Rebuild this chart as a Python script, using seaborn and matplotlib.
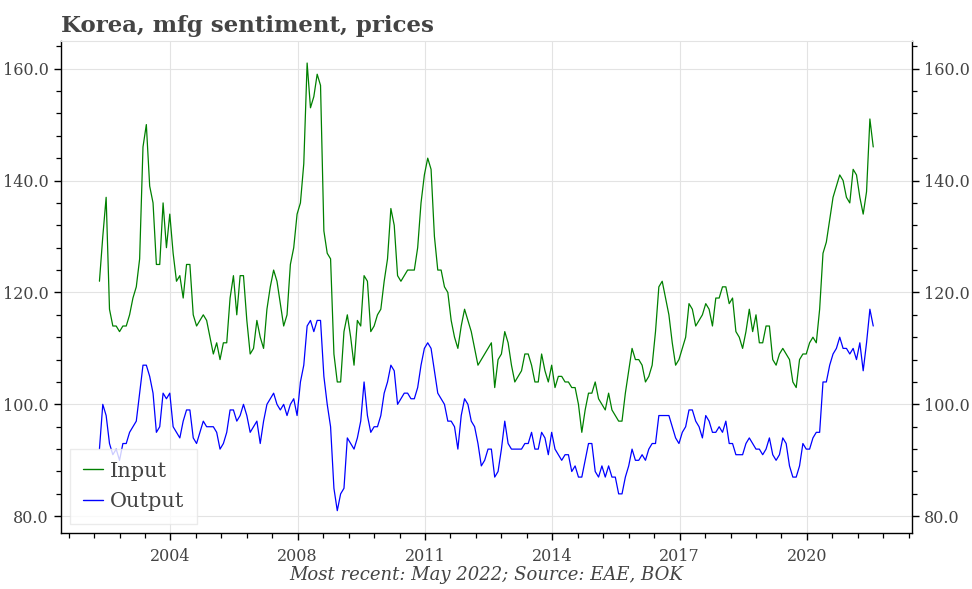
import matplotlib
matplotlib.use("Agg")
import matplotlib.pyplot as plt
from matplotlib.ticker import AutoMinorLocator, FixedLocator, FormatStrFormatter
import numpy as np
import pandas as pd
import seaborn as sns

# ---- data (monthly) ----
input_prices = [
    122, 130, 137, 117, 114, 114, 113, 114, 114, 116, 119, 121, 126, 146, 150, 139, 136, 125, 125, 136,
    128, 134, 127, 122, 123, 119, 125, 125, 116, 114, 115, 116, 115, 112, 109, 111, 108, 111, 111, 119,
    123, 116, 123, 123, 115, 109, 110, 115, 112, 110, 117, 121, 124, 122, 118, 114, 116, 125, 128, 134,
    136, 143, 161, 153, 155, 159, 157, 131, 127, 126, 109, 104, 104, 113, 116, 112, 107, 115, 114, 123,
    122, 113, 114, 116, 117, 122, 126, 135, 132, 123, 122, 123, 124, 124, 124, 128, 136, 141, 144, 142,
    130, 124, 124, 121, 120, 115, 112, 110, 114, 117, 115, 113, 110, 107, 108, 109, 110, 111, 103, 108,
    109, 113, 111, 107, 104, 105, 106, 109, 109, 107, 104, 104, 109, 106, 104, 107, 103, 105, 105, 104,
    104, 103, 103, 100, 95, 99, 102, 102, 104, 101, 100, 99, 102, 99, 98, 97, 97, 102, 106, 110,
    108, 108, 107, 104, 105, 107, 113, 121, 122, 119, 116, 111, 107, 108, 110, 112, 118, 117, 114, 115,
    116, 118, 117, 114, 119, 119, 121, 121, 118, 119, 113, 112, 110, 113, 117, 113, 116, 111, 111, 114,
    114, 108, 107, 109, 110, 109, 108, 104, 103, 108, 109, 109, 111, 112, 111, 117, 127, 129, 133, 137,
    139, 141, 140, 137, 136, 142, 141, 137, 134, 138, 151, 146,
]
output_prices = [
    92, 100, 98, 93, 91, 92, 90, 93, 93, 95, 96, 97, 102, 107, 107, 105, 102, 95, 96, 102,
    101, 102, 96, 95, 94, 97, 99, 99, 94, 93, 95, 97, 96, 96, 96, 95, 92, 93, 95, 99,
    99, 97, 98, 100, 98, 95, 96, 97, 93, 97, 100, 101, 102, 100, 99, 100, 98, 100, 101, 98,
    104, 107, 114, 115, 113, 115, 115, 105, 100, 96, 85, 81, 84, 85, 94, 93, 92, 94, 97, 104,
    98, 95, 96, 96, 98, 102, 104, 107, 106, 100, 101, 102, 102, 101, 101, 103, 107, 110, 111, 110,
    106, 102, 101, 100, 97, 97, 96, 92, 98, 101, 100, 97, 96, 93, 89, 90, 92, 92, 87, 88,
    92, 97, 93, 92, 92, 92, 92, 93, 93, 95, 92, 92, 95, 94, 91, 95, 92, 91, 90, 91,
    91, 88, 89, 87, 87, 90, 93, 93, 88, 87, 89, 87, 89, 87, 87, 84, 84, 87, 89, 92,
    90, 90, 91, 90, 92, 93, 93, 98, 98, 98, 98, 96, 94, 93, 95, 96, 99, 99, 97, 96,
    94, 98, 97, 95, 95, 96, 95, 97, 93, 93, 91, 91, 91, 93, 94, 93, 92, 92, 91, 92,
    94, 91, 90, 91, 94, 93, 89, 87, 87, 89, 93, 92, 92, 94, 95, 95, 104, 104, 107, 109,
    110, 112, 110, 110, 109, 110, 108, 111, 106, 111, 117, 114,
]
series_names = ["Input", "Output"]
series_colors = ["green", "blue"]
x_tick_positions = [21.2, 59.2, 97.2, 135.2, 173.2, 211.2]
x_tick_labels = ["2004", "2008", "2011", "2014", "2017", "2020"]
y_ticks = [80, 100, 120, 140, 160]
title_text = "Korea, mfg sentiment, prices"
caption_text = "Most recent: May 2022; Source: EAE, BOK"

# ---- build long table ----
n = len(input_prices)
df = pd.DataFrame({
    "t": list(range(n)) * 2,
    "value": input_prices + output_prices,
    "series": [series_names[0]] * n + [series_names[1]] * len(output_prices),
})

sns.set_theme(style="ticks")
plt.rcParams["font.family"] = ["DejaVu Serif"]
text_color = "#444444"
plt.rcParams["text.color"] = text_color
plt.rcParams["axes.labelcolor"] = text_color
plt.rcParams["xtick.color"] = "black"
plt.rcParams["ytick.color"] = "black"
plt.rcParams["xtick.labelcolor"] = text_color
plt.rcParams["ytick.labelcolor"] = text_color

fig = plt.figure(figsize=(9.72, 5.89), dpi=100)
ax = fig.add_axes([0.0625, 0.095, 0.8757, 0.836])

sns.lineplot(data=df, x="t", y="value", hue="series",
             palette=dict(zip(series_names, series_colors)),
             linewidth=0.9, ax=ax)

ax.margins(x=0.05, y=0.05)
ax.set_xlabel("")
ax.set_ylabel("")

ax.xaxis.set_major_locator(FixedLocator(x_tick_positions))
ax.set_xticklabels(x_tick_labels)
ax.xaxis.set_minor_locator(AutoMinorLocator(5))
ax.yaxis.set_major_locator(FixedLocator(y_ticks))
ax.yaxis.set_major_formatter(FormatStrFormatter("%.1f"))
ax.yaxis.set_minor_locator(AutoMinorLocator(5))

ax.tick_params(axis="both", which="major", length=5, width=1, labelsize=11.5, direction="out")
ax.tick_params(axis="both", which="minor", length=3.5, width=0.9, direction="out")
ax.tick_params(axis="y", which="both", right=True, labelright=True)
ax.tick_params(axis="x", pad=6)

ax.grid(True, which="major", color="#e3e3e3", linewidth=0.8)
ax.set_axisbelow(True)

for side in ["left", "right", "bottom"]:
    ax.spines[side].set_visible(True)
    ax.spines[side].set_color("black")
    ax.spines[side].set_linewidth(1.0)
ax.spines["top"].set_visible(True)
ax.spines["top"].set_color("#e3e3e3")
ax.spines["top"].set_linewidth(0.8)

leg = ax.legend(loc="lower left", fontsize=15, frameon=True, fancybox=False,
                handlelength=1.0, handletextpad=0.3, borderpad=0.6,
                labelspacing=0.55, framealpha=0.8, borderaxespad=0.45)
leg.get_frame().set_edgecolor("#e6e6e6")
for t in leg.get_texts():
    t.set_color(text_color)
for line in leg.get_lines():
    line.set_linewidth(1.0)

fig.text(0.0625, 0.946, title_text, fontsize=16.5, fontweight="bold",
         color=text_color, ha="left", va="baseline")
fig.text(0.5, 0.016, caption_text, fontsize=13, style="italic",
         color=text_color, ha="center", va="baseline")

fig.savefig("out.png", dpi=100)
